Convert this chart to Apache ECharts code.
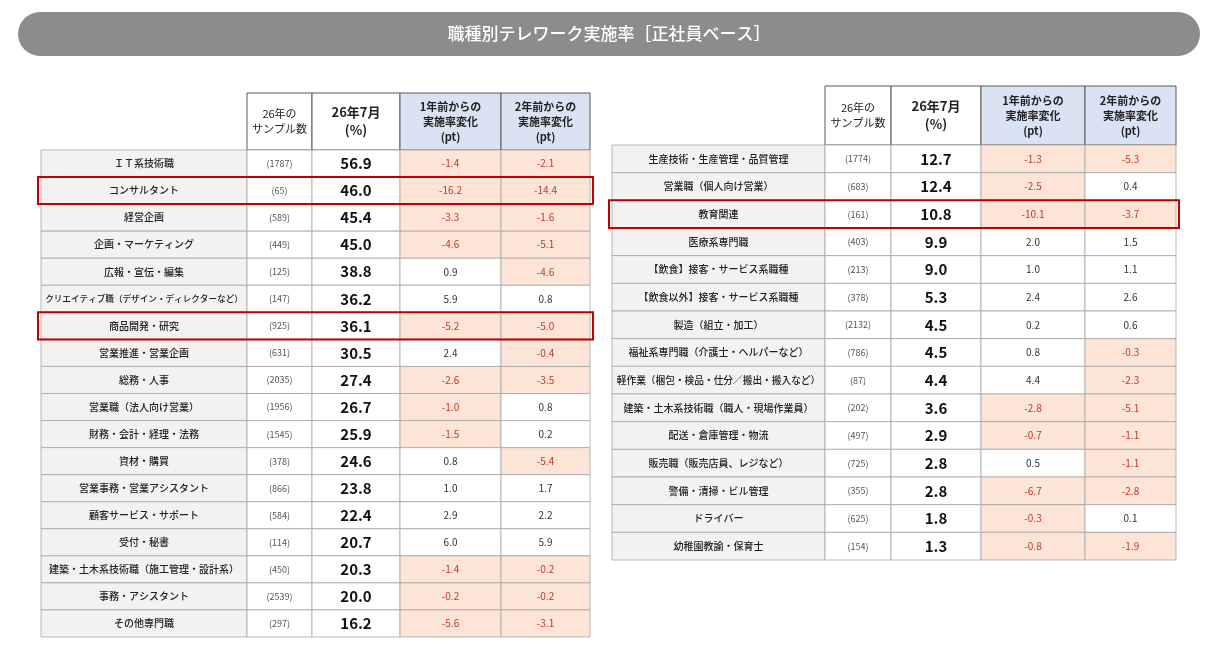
<!DOCTYPE html>
<html><head><meta charset="utf-8">
<script src="https://cdn.jsdelivr.net/npm/echarts@6/dist/echarts.min.js"></script>
<style>html,body{margin:0;background:#fff}#c{width:1210px;height:650px}</style>
</head><body><div id="c"></div>
<script>
// left table
const leftJobs = ['ＩＴ系技術職','コンサルタント','経営企画','企画・マーケティング','広報・宣伝・編集','クリエイティブ職（デザイン・ディレクターなど）','商品開発・研究','営業推進・営業企画','総務・人事','営業職（法人向け営業）','財務・会計・経理・法務','資材・購買','営業事務・営業アシスタント','顧客サービス・サポート','受付・秘書','建築・土木系技術職（施工管理・設計系）','事務・アシスタント','その他専門職'];
const leftN = [1787,65,589,449,125,147,925,631,2035,1956,1545,378,866,584,114,450,2539,297];
const leftRate = [56.9,46.0,45.4,45.0,38.8,36.2,36.1,30.5,27.4,26.7,25.9,24.6,23.8,22.4,20.7,20.3,20.0,16.2];
const leftD1 = [-1.4,-16.2,-3.3,-4.6,0.9,5.9,-5.2,2.4,-2.6,-1.0,-1.5,0.8,1.0,2.9,6.0,-1.4,-0.2,-5.6];
const leftD2 = [-2.1,-14.4,-1.6,-5.1,-4.6,0.8,-5.0,-0.4,-3.5,0.8,0.2,-5.4,1.7,2.2,5.9,-0.2,-0.2,-3.1];
const leftMark = [1,6];
// right table
const rightJobs = ['生産技術・生産管理・品質管理','営業職（個人向け営業）','教育関連','医療系専門職','【飲食】接客・サービス系職種','【飲食以外】接客・サービス系職種','製造（組立・加工）','福祉系専門職（介護士・ヘルパーなど）','軽作業（梱包・検品・仕分／搬出・搬入など）','建築・土木系技術職（職人・現場作業員）','配送・倉庫管理・物流','販売職（販売店員、レジなど）','警備・清掃・ビル管理','ドライバー','幼稚園教諭・保育士'];
const rightN = [1774,683,161,403,213,378,2132,786,87,202,497,725,355,625,154];
const rightRate = [12.7,12.4,10.8,9.9,9.0,5.3,4.5,4.5,4.4,3.6,2.9,2.8,2.8,1.8,1.3];
const rightD1 = [-1.3,-2.5,-10.1,2.0,1.0,2.4,0.2,0.8,4.4,-2.8,-0.7,0.5,-6.7,-0.3,-0.8];
const rightD2 = [-5.3,0.4,-3.7,1.5,1.1,2.6,0.6,-0.3,-2.3,-5.1,-1.1,-1.1,-2.8,0.1,-1.9];
const rightMark = [2];
const headers = ['26年の\nサンプル数','26年7月\n(%)','1年前からの\n実施率変化\n(pt)','2年前からの\n実施率変化\n(pt)'];

const FONT = '"Noto Sans CJK JP", sans-serif';
const tables = [
  {jobs:leftJobs,n:leftN,rate:leftRate,d1:leftD1,d2:leftD2,mark:leftMark,left:41,top:150,height:487,hTop:93,edges:[0,206,271,359,460,549]},
  {jobs:rightJobs,n:rightN,rate:rightRate,d1:rightD1,d2:rightD2,mark:rightMark,left:612,top:145,height:415,hTop:86,edges:[0,213,279,369,473,564]}
];

const grids=[],xAxes=[],yAxes=[],series=[],graphics=[];
graphics.push({type:'rect',shape:{x:18,y:12,width:1182,height:44,r:22},style:{fill:'#8c8c8c'}});
graphics.push({type:'text',x:609,y:34,style:{text:'職種別テレワーク実施率［正社員ベース］',fill:'#fff',font:'500 17px '+FONT,align:'center',verticalAlign:'middle'}});

tables.forEach((t,k)=>{
  const E=t.edges, W=E[E.length-1];
  grids.push({left:t.left,top:t.top,width:W,height:t.height});
  xAxes.push({type:'value',gridIndex:k,min:0,max:W,show:false});
  yAxes.push({type:'category',gridIndex:k,data:t.jobs,inverse:true,show:false});
  const data=[];
  t.jobs.forEach((j,i)=>{
    data.push([0,i,j,'name']);
    data.push([1,i,'('+t.n[i]+')','n']);
    data.push([2,i,t.rate[i].toFixed(1),'rate']);
    data.push([3,i,t.d1[i].toFixed(1),t.d1[i]<0?'neg':'pos']);
    data.push([4,i,t.d2[i].toFixed(1),t.d2[i]<0?'neg':'pos']);
  });
  series.push({type:'custom',xAxisIndex:k,yAxisIndex:k,data:data,silent:true,
    renderItem:(p,api)=>{
      const c=api.value(0), i=api.value(1), d=data[p.dataIndex];
      const a=api.coord([E[c],i]), b=api.coord([E[c+1],i]);
      const h=api.size([0,1])[1];
      const x=a[0], y=a[1]-h/2, w=b[0]-a[0];
      const kind=d[3];
      const fill= kind==='name'?'#f2f2f2': kind==='neg'?'#fce4d6':'#fff';
      let font='10px '+FONT, col='#222';
      if(kind==='n'){font='9px '+FONT;col='#555';}
      if(kind==='rate'){font='bold 15px '+FONT;col='#111';}
      if(kind==='neg'){col='#c0392b';}
      if(kind==='pos'){col='#333';}
      if(kind==='name'){
        const fs=Math.min(10,Math.floor((w-8)/d[2].length*10)/10);
        font='500 '+fs+'px '+FONT;
      }
      return {type:'group',children:[
        {type:'rect',shape:{x:x,y:y,width:w,height:h},style:{fill:fill,stroke:'#a6a6a6',lineWidth:0.8}},
        {type:'text',style:{x:x+w/2,y:a[1],text:d[2],font:font,fill:col,align:'center',verticalAlign:'middle'}}
      ]};
    }});
  series.push({type:'custom',xAxisIndex:k,yAxisIndex:k,data:t.mark.map(i=>[0,i]),silent:true,z:5,
    renderItem:(p,api)=>{
      const i=api.value(1);
      const a=api.coord([0,i]), b=api.coord([W,i]), h=api.size([0,1])[1];
      return {type:'rect',shape:{x:a[0]-3,y:a[1]-h/2,width:b[0]-a[0]+6,height:h},style:{fill:'none',stroke:'#c00000',lineWidth:2}};
    }});
  headers.forEach((txt,c)=>{
    const x=t.left+E[c+1], w=E[c+2]-E[c+1], hh=t.top-t.hTop;
    const blue=c>=2, bold=c>=1;
    graphics.push({type:'rect',shape:{x:x,y:t.hTop,width:w,height:hh},style:{fill:blue?'#dae3f3':'#fff',stroke:'#595959',lineWidth:1}});
    graphics.push({type:'text',x:x+w/2,y:t.hTop+hh/2,style:{text:txt,align:'center',verticalAlign:'middle',lineHeight:c==1?18:15,
      font:(bold?'bold ':'')+(c==1?'13px ':'11px ')+FONT,fill:'#222'}});
  });
});

const chart=echarts.init(document.getElementById('c'));
chart.setOption({animation:false,grid:grids,xAxis:xAxes,yAxis:yAxes,series:series,graphic:graphics});
</script></body></html>
